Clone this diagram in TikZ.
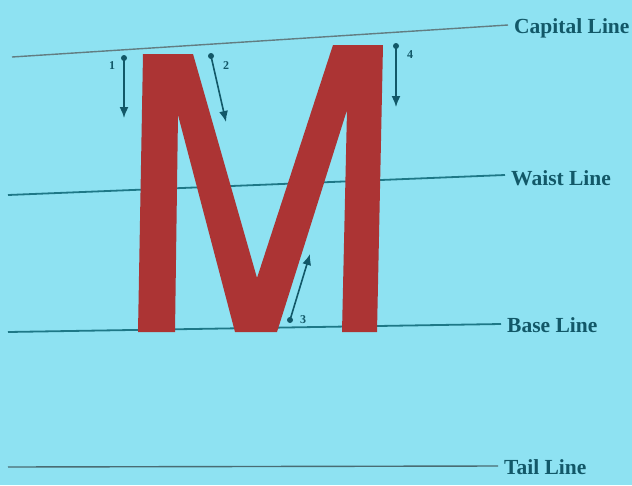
\documentclass[tikz,border=0pt]{standalone}
\usepackage{fontspec}
\setmainfont{Liberation Serif}
\usetikzlibrary{arrows.meta}
\definecolor{bg}{RGB}{142,226,242}
\definecolor{mred}{RGB}{172,52,52}
\definecolor{ink}{RGB}{18,88,104}
\definecolor{guide}{RGB}{30,120,135}
\begin{document}
\begin{tikzpicture}[x=1pt,y=-1pt,
  guideline/.style={draw=guide,line width=1.8pt},
  lbl/.style={anchor=west,text=ink,inner sep=0pt,font=\fontsize{21.5}{22}\selectfont\bfseries},
  num/.style={text=ink,inner sep=0pt,font=\fontsize{12}{12}\selectfont\bfseries},
  stroke/.style={draw=ink,line width=1.6pt,-{Latex[length=11pt,width=9pt]}},
  dotmark/.style={circle,fill=ink,inner sep=0pt,minimum size=6pt}]
\fill[bg] (0,0) rectangle (632,485);
\useasboundingbox (0,0) rectangle (632,485);
\clip (0,0) rectangle (632,485);
% guideline labels
\node[lbl] (cap) at (514,28) {Capital Line};
\node[lbl] (waist) at (511,178) {Waist Line};
\node[lbl] (base) at (507,325) {Base Line};
\node[lbl] (tail) at (504,467) {Tail Line};
\coordinate (capS) at (12,57);
\coordinate (waistS) at (8,195);
\coordinate (baseS) at (8,332);
\coordinate (tailS) at (8,467);
\draw[guideline,draw=gray!70!guide,line width=1.4pt] (capS) -- ([xshift=-6pt,yshift=3pt]cap.west);
\draw[guideline] (waistS) -- ([xshift=-6pt,yshift=3pt]waist.west);
\draw[guideline] (baseS) -- ([xshift=-6pt,yshift=1pt]base.west);
\draw[guideline,draw=gray!50!ink,line width=1.4pt] (tailS) -- ([xshift=-6pt,yshift=1pt]tail.west);
% letter M
\fill[mred] (138,332) -- (143,54) -- (193,54) -- (257,278) -- (333,45) -- (383,45)
  -- (377,332) -- (342,332) -- (347,110) -- (277,332) -- (235,332) -- (178,115)
  -- (175,332) -- cycle;
% stroke order arrows
\node[dotmark] (d1) at (124,58) {};
\coordinate (t1) at (124,118);
\draw[stroke] (d1.center) -- (t1);
\node[num] (n1) at (112,66) {1};
\node[dotmark] (d2) at (211,56) {};
\coordinate (t2) at (226,122);
\draw[stroke] (d2.center) -- (t2);
\node[num] (n2) at (226,66) {2};
\node[dotmark] (d3) at (290,320) {};
\coordinate (t3) at (310,254);
\draw[stroke] (d3.center) -- (t3);
\node[num] (n3) at (303,320) {3};
\node[dotmark] (d4) at (396,46) {};
\coordinate (t4) at (396,107);
\draw[stroke] (d4.center) -- (t4);
\node[num] (n4) at (410,55) {4};
\end{tikzpicture}
\end{document}
